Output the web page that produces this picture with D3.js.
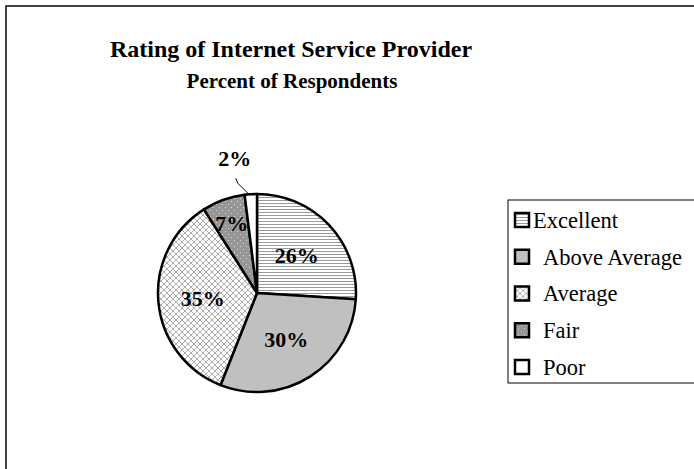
<!DOCTYPE html>
<html>
<head>
<meta charset="utf-8">
<script src="https://cdn.jsdelivr.net/npm/d3@7/dist/d3.min.js"></script>
<style>
  html, body { margin: 0; padding: 0; background: #fff; }
  svg { display: block; font-family: "Liberation Serif", "Times New Roman", serif; }
</style>
</head>
<body>
<svg id="chart" width="694" height="469"></svg>
<script>
// Survey results: rating of internet service provider
const categories = ["Excellent", "Above Average", "Average", "Fair", "Poor"];
const percents = [26, 30, 35, 7, 2];
const labels = ["26%", "30%", "35%", "7%", "2%"];

const svg = d3.select("#chart");
const defs = svg.append("defs");

// Fill patterns for each rating
const hLines = defs.append("pattern").attr("id", "p-excellent")
  .attr("patternUnits", "userSpaceOnUse").attr("width", 4).attr("height", 3);
hLines.append("rect").attr("width", 4).attr("height", 3).attr("fill", "#fff");
hLines.append("rect").attr("y", 0).attr("width", 4).attr("height", 1).attr("fill", "#9a9a9a");

const cross = defs.append("pattern").attr("id", "p-average")
  .attr("patternUnits", "userSpaceOnUse").attr("width", 6).attr("height", 6);
cross.append("rect").attr("width", 6).attr("height", 6).attr("fill", "#fff");
cross.append("path").attr("d", "M0,0L6,6M6,0L0,6")
  .attr("stroke", "#999").attr("stroke-width", 0.8);

const dots = defs.append("pattern").attr("id", "p-fair")
  .attr("patternUnits", "userSpaceOnUse").attr("width", 6).attr("height", 6);
dots.append("rect").attr("width", 6).attr("height", 6).attr("fill", "#969696");
dots.append("rect").attr("x", 1).attr("y", 1).attr("width", 1).attr("height", 1).attr("fill", "#d8d8d8");
dots.append("rect").attr("x", 4).attr("y", 4).attr("width", 1).attr("height", 1).attr("fill", "#d8d8d8");

const fills = d3.scaleOrdinal()
  .domain(categories)
  .range(["url(#p-excellent)", "#c0c0c0", "url(#p-average)", "url(#p-fair)", "#ffffff"]);

// Outer chart frame
svg.append("rect").attr("x", 6).attr("y", 6).attr("width", 700).attr("height", 480)
  .attr("fill", "none").attr("stroke", "#000").attr("stroke-width", 1.5);

// Titles
svg.append("text").attr("x", 291).attr("y", 57).attr("text-anchor", "middle")
  .attr("font-size", 24).attr("font-weight", "bold").text("Rating of Internet Service Provider");
svg.append("text").attr("x", 292).attr("y", 88).attr("text-anchor", "middle")
  .attr("font-size", 21).attr("font-weight", "bold").text("Percent of Respondents");

// Pie
const cx = 257, cy = 293, r = 99;
const pie = d3.pie().sort(null).value(d => d.value);
const data = pie(categories.map((c, i) => ({ cat: c, value: percents[i], label: labels[i] })));
const arc = d3.arc().innerRadius(0).outerRadius(r);

const g = svg.append("g").attr("transform", `translate(${cx},${cy})`);
g.selectAll("path.slice").data(data).join("path")
  .attr("class", "slice")
  .attr("d", arc)
  .attr("fill", d => fills(d.data.cat))
  .attr("stroke", "#000").attr("stroke-width", 2.5).attr("stroke-linejoin", "round");

// Slice labels (placed inside, except the smallest slice which gets a leader line)
const labelArc = d3.arc().innerRadius(r * 0.55).outerRadius(r * 0.55);
const inner = data.filter(d => d.data.value >= 5);
g.selectAll("text.lbl").data(inner).join("text")
  .attr("class", "lbl")
  .attr("transform", d => {
    const [x, y] = labelArc.centroid(d);
    const off = d.data.value < 10 ? r * 0.2 : 0;
    const a = (d.startAngle + d.endAngle) / 2;
    return `translate(${x + off * Math.sin(a)},${y - off * Math.cos(a)})`;
  })
  .attr("text-anchor", "middle").attr("dy", "0.35em")
  .attr("font-size", 22).attr("font-weight", "bold")
  .text(d => d.data.label);

const small = data.filter(d => d.data.value < 5);
small.forEach(d => {
  const a = (d.startAngle + d.endAngle) / 2;
  const px = r * Math.sin(a), py = -r * Math.cos(a);
  g.append("path")
    .attr("d", `M${px - 2},${py}L${px - 13},${py - 11}L${px - 15},${py - 16}`)
    .attr("fill", "none").attr("stroke", "#000").attr("stroke-width", 1);
  g.append("text").attr("x", px - 16).attr("y", py - 36)
    .attr("text-anchor", "middle").attr("dy", "0.35em")
    .attr("font-size", 22).attr("font-weight", "bold").text(d.data.label);
});

// Legend
const lx = 508, ly = 200;
svg.append("rect").attr("x", lx).attr("y", ly).attr("width", 200).attr("height", 183)
  .attr("fill", "#fff").attr("stroke", "#000").attr("stroke-width", 1);
const rowY = d3.scalePoint().domain(categories).range([ly + 20, ly + 167]);
const items = svg.selectAll("g.leg").data(categories).join("g").attr("class", "leg")
  .attr("transform", d => `translate(${lx},${rowY(d)})`);
items.append("rect").attr("x", 7).attr("y", -7).attr("width", 14).attr("height", 14)
  .attr("fill", d => fills(d)).attr("stroke", "#000").attr("stroke-width", 2.5);
items.append("text").attr("x", (d, i) => i === 0 ? 25 : 35).attr("y", 0)
  .attr("dy", "0.35em").attr("font-size", 22.5).text(d => d);
</script>
</body>
</html>
